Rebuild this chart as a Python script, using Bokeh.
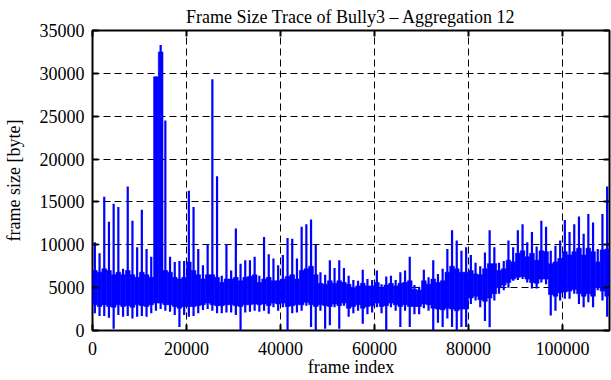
from bokeh.plotting import figure
from bokeh.models import Range1d, FixedTicker, LinearAxis, BasicTickFormatter
from bokeh.embed import file_html
from bokeh.resources import INLINE

# Frame bins (start frame index of each 1000-frame bin)
frame_bins = list(range(0, 110000, 1000))

# Highest frame size reached in each bin [byte]
hi = [10300, 9000, 15600, 12700, 14800, 14400, 7200, 16800, 12800, 9700,
      14100, 9500, 8600, 29600, 33300, 24500, 8600, 8000, 8100, 8100,
      16300, 14400, 9500, 7600, 10100, 29300, 18000, 6400, 10100, 7000,
      11900, 7800, 8200, 8200, 8600, 6400, 10900, 8900, 8400, 7600,
      8800, 10800, 10700, 8400, 12100, 12400, 12950, 10000, 6800, 6500,
      8200, 7300, 8200, 7300, 6400, 5900, 5800, 7100, 6000, 5900,
      7000, 5400, 6300, 6400, 5900, 6800, 7000, 8600, 5300, 5100,
      7100, 6200, 8200, 6600, 7200, 9500, 11700, 10500, 9300, 9700,
      8800, 7900, 7500, 9100, 11700, 9700, 7900, 8100, 10500, 9700,
      11700, 12400, 10300, 11500, 9800, 12800, 12100, 9300, 9900, 10500,
      12900, 11500, 12400, 13300, 11300, 13600, 12600, 9500, 13600, 16800]

# Lowest frame size reached in each bin [byte]
lo = [2000, 1700, 1700, 1500, 200, 1800, 1600, 1700, 1400, 1600,
      1700, 1600, 2000, 2300, 2500, 2300, 2200, 1800, 400, 1800,
      1600, 1700, 2000, 2400, 2500, 2300, 2000, 2000, 2100, 2100,
      1800, 0, 2100, 2200, 2300, 2200, 2300, 1950, 2700, 2300,
      2700, 0, 2000, 2100, 2300, 2900, 400, 0, 2300, 200,
      600, 2700, 200, 2900, 1600, 2000, 2300, 800, 1900, 2100,
      2700, 2000, 0, 2700, 2300, 400, 2300, 400, 1900, 1900,
      2600, 2300, 0, 900, 400, 1400, 400, 0, 400, 400,
      3100, 3500, 2700, 1100, 390, 3500, 4300, 4700, 5000, 5800,
      5900, 6000, 5600, 4900, 4900, 5600, 5400, 1750, 2300, 3500,
      3700, 3700, 4300, 3100, 2700, 3300, 2700, 4700, 3500, 1600]

# Top of the dense (solid) part of the trace in each bin [byte]
core_hi = [7000, 6800, 7200, 7000, 6500, 6800, 6500, 7000, 6500, 6200,
           6800, 6500, 6200, 29600, 32500, 7000, 6800, 6200, 6000, 6200,
           8000, 7000, 6500, 6000, 6500, 6500, 6200, 5600, 6000, 6000,
           6200, 5800, 6200, 6300, 6500, 5600, 6000, 6200, 5800, 5800,
           6000, 6300, 6500, 6000, 7000, 7200, 7500, 6500, 5500, 5400,
           5800, 5500, 5800, 5600, 5400, 5000, 5200, 5500, 5200, 5200,
           5600, 5000, 5300, 5500, 5200, 5500, 5600, 5800, 4800, 4700,
           5800, 5400, 6000, 5600, 5800, 6800, 7500, 7200, 6800, 6800,
           7000, 6600, 6500, 7200, 7800, 7800, 7000, 7200, 8200, 8000,
           9000, 9300, 8600, 9000, 8200, 9300, 9200, 7800, 8000, 8400,
           9200, 8800, 9200, 9600, 8800, 9600, 9200, 8000, 9400, 9500]

# Bottom of the dense (solid) part of the trace in each bin [byte]
core_lo = [3000, 2800, 3000, 2800, 2700, 3000, 2800, 2900, 2700, 3000,
           2900, 2800, 3000, 3200, 3200, 3000, 3000, 2800, 2600, 2800,
           2800, 2800, 2900, 3000, 3200, 3000, 2900, 2900, 3000, 3000,
           2900, 2800, 3000, 3000, 3100, 3000, 3100, 2900, 3200, 3100,
           3200, 2800, 2900, 3000, 3000, 3300, 3000, 2800, 3000, 2900,
           2800, 3100, 2900, 3200, 2600, 2800, 3000, 2600, 2800, 2900,
           3200, 2800, 2900, 3200, 3000, 2800, 3000, 2800, 2800, 2800,
           3100, 3000, 2600, 2500, 2400, 2600, 2500, 2300, 2500, 2500,
           3800, 4000, 3600, 3400, 3800, 4300, 5000, 5300, 5600, 6000,
           6200, 6300, 6000, 5600, 5500, 6000, 6000, 4200, 4000, 4400,
           4500, 4600, 4800, 4300, 4000, 4300, 4000, 5000, 4600, 4000]

x_ticks = [0, 20000, 40000, 60000, 80000, 100000]
y_ticks = [0, 5000, 10000, 15000, 20000, 25000, 30000, 35000]

bin_width = 1000
centers = [b + bin_width / 2 for b in frame_bins]

FONT = "Liberation Serif"
BLUE = "#0000ff"

p = figure(width=611, height=380, output_backend="svg", toolbar_location=None,
           x_range=Range1d(0, 110000), y_range=Range1d(0, 35000),
           min_border_left=91, min_border_right=2, min_border_top=30, min_border_bottom=50)

p.title.text = "Frame Size Trace of Bully3 \u2013 Aggregation 12"
p.title.align = "center"
p.title.vertical_align = "top"
p.title.text_font = FONT
p.title.text_font_size = "18px"
p.title.text_font_style = "normal"
p.title.text_color = "black"
p.title.standoff = 4

# dense core of the trace
p.vbar(x=centers, bottom=core_lo, top=core_hi, width=bin_width,
       fill_color=BLUE, line_color=BLUE, line_width=0.6)
# individual excursions (peaks and dips) of the trace
p.segment(x0=centers, y0=lo, x1=centers, y1=hi, line_color=BLUE, line_width=2.2)

p.outline_line_color = "black"
p.outline_line_width = 2
p.background_fill_color = "white"
p.border_fill_color = "white"

for ax in (p.xaxis[0], p.yaxis[0]):
    ax.axis_line_color = None
    ax.major_tick_in = 6
    ax.major_tick_out = 0
    ax.major_tick_line_color = "black"
    ax.major_tick_line_width = 2
    ax.minor_tick_line_color = None
    ax.major_label_text_font = FONT
    ax.major_label_text_font_size = "18px"
    ax.major_label_text_color = "black"
    ax.axis_label_text_font = FONT
    ax.axis_label_text_font_size = "18px"
    ax.axis_label_text_font_style = "normal"
    ax.axis_label_text_color = "black"
    ax.formatter = BasicTickFormatter(use_scientific=False)

p.xaxis[0].ticker = FixedTicker(ticks=x_ticks)
p.yaxis[0].ticker = FixedTicker(ticks=y_ticks)
p.xaxis[0].axis_label = "frame index"
p.yaxis[0].axis_label = "frame size [byte]"
p.xaxis[0].major_label_standoff = 11
p.yaxis[0].major_label_standoff = 8
p.xaxis[0].axis_label_standoff = -1
p.yaxis[0].axis_label_standoff = 13

# mirrored inward ticks on the top and right borders (no labels)
top_ax = LinearAxis(ticker=FixedTicker(ticks=x_ticks), axis_line_color=None,
                    major_tick_in=6, major_tick_out=0, major_tick_line_width=2,
                    minor_tick_line_color=None, major_label_text_color=None,
                    major_label_text_font_size="1px", major_label_standoff=0)
right_ax = LinearAxis(ticker=FixedTicker(ticks=y_ticks), axis_line_color=None,
                      major_tick_in=6, major_tick_out=0, major_tick_line_width=2,
                      minor_tick_line_color=None, major_label_text_color=None,
                      major_label_text_font_size="1px", major_label_standoff=0)
p.add_layout(top_ax, "above")
p.add_layout(right_ax, "right")

for g in (p.xgrid[0], p.ygrid[0]):
    g.grid_line_color = "black"
    g.grid_line_dash = "7 4"
    g.grid_line_width = 1
    g.grid_line_alpha = 1.0
p.xgrid[0].ticker = FixedTicker(ticks=x_ticks)
p.ygrid[0].ticker = FixedTicker(ticks=y_ticks)

open("out.html", "w").write(file_html(p, INLINE))
